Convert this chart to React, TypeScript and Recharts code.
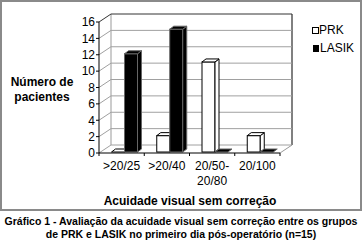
import React from 'react';
import { BarChart, Bar, XAxis, YAxis, CartesianGrid } from 'recharts';

const categories = ['>20/25', '>20/40', '20/50-\n20/80', '20/100'];
const prkValues = [0, 2, 11, 2];
const lasikValues = [12, 15, 0, 0];
const yTicks = [0, 2, 4, 6, 8, 10, 12, 14, 16];
const seriesNames = ['PRK', 'LASIK'];
const yAxisTitle = ['Número de', 'pacientes'];
const xAxisTitle = 'Acuidade visual sem correção';
const captionLines = [
  'Gráfico 1 - Avaliação da acuidade visual sem correção entre os grupos',
  'de PRK e LASIK no primeiro dia pós-operatório (n=15)',
];

const data = categories.map((c, i) => ({ category: c, PRK: prkValues[i], LASIK: lasikValues[i] }));

const FONT = '"Liberation Sans", Arial, Helvetica, sans-serif';
const DX = 12;
const DY = -8;
const BX = 4;
const BY = -3;
const SHIFT_X = 3;
const SHIFT_Y = -1;

const Box3D = (props: any) => {
  const { x, y, width, height, fill, stroke } = props;
  if (x == null || y == null) return null;
  const w = width;
  const h = Math.max(0, height || 0);
  const x0 = x + SHIFT_X;
  const y0 = y + SHIFT_Y;
  const top = `M${x0},${y0}L${x0 + BX},${y0 + BY}L${x0 + w + BX},${y0 + BY}L${x0 + w},${y0}Z`;
  const side = `M${x0 + w},${y0}L${x0 + w + BX},${y0 + BY}L${x0 + w + BX},${y0 + h + BY}L${x0 + w},${y0 + h}Z`;
  return (
    <g>
      {h > 0 && <rect x={x0} y={y0} width={w} height={h} fill={fill} stroke={stroke} strokeWidth={1} />}
      {h > 0 && <path d={side} fill={fill} stroke={stroke} strokeWidth={1} strokeLinejoin="round" />}
      <path d={top} fill={fill} stroke={stroke} strokeWidth={1} strokeLinejoin="round" />
    </g>
  );
};

const gridLine = (p: any) => {
  const { x1, x2, y1 } = p;
  const top = p.y != null ? p.y : 22;
  const bottom = top + (p.height != null ? p.height : 131);
  const isTop = Math.abs(y1 - top) < 0.5;
  const isBottom = Math.abs(y1 - bottom) < 0.5;
  return (
    <g key={p.key ?? `g-${y1}`}>
      {isBottom && (
        <g>
          <line x1={x1 + DX} y1={top + DY} x2={x1 + DX} y2={bottom + DY} stroke="#999" strokeWidth={1} />
          <line x1={x2 + DX} y1={top + DY} x2={x2 + DX} y2={bottom + DY} stroke="#808080" strokeWidth={2} />
          <line x1={x2} y1={bottom} x2={x2 + DX} y2={bottom + DY} stroke="#999" strokeWidth={1} />
        </g>
      )}
      <polyline
        points={`${x1},${y1} ${x1 + DX},${y1 + DY} ${x2 + DX},${y1 + DY}`}
        fill="none"
        stroke={isTop ? '#333' : '#a0a0a0'}
        strokeWidth={1}
      />
    </g>
  );
};

const XTick = (p: any) => {
  const { x, y, payload, index, visibleTicksCount } = p;
  const lines = String(payload.value).split('\n');
  const half = payload.offset ? payload.offset : 22.6;
  const last = visibleTicksCount ? index === visibleTicksCount - 1 : index === categories.length - 1;
  return (
    <g>
      <line x1={x - half} y1={y} x2={x - half} y2={y + 3} stroke="#000" />
      {last && <line x1={x + half} y1={y} x2={x + half} y2={y + 3} stroke="#000" />}
      <text x={x} y={y + 17} textAnchor="middle" fontSize={12} fontFamily={FONT} fill="#000">
        {lines.map((l, i) => (
          <tspan key={i} x={x} dy={i === 0 ? 0 : 15}>
            {l}
          </tspan>
        ))}
      </text>
    </g>
  );
};

export default function App() {
  return (
    <div style={{ position: 'absolute', left: 0, top: 0, width: 362, height: 241, background: '#fff', fontFamily: FONT }}>
      <div
        style={{
          position: 'absolute',
          left: 0,
          top: 0,
          width: 362,
          height: 211,
          boxSizing: 'border-box',
          border: '2px solid #8a8a8a',
        }}
      />
      <div style={{ position: 'absolute', left: 0, top: 0 }}>
        <BarChart
          width={362}
          height={212}
          data={data}
          margin={{ top: 22, right: 82, bottom: 0, left: 0 }}
          barCategoryGap="21%"
          barGap={0}
        >
          <CartesianGrid vertical={false} horizontal={gridLine} />
          <XAxis
            dataKey="category"
            height={59}
            axisLine={{ stroke: '#000' }}
            tickLine={false}
            tickSize={0}
            tickMargin={0}
            interval={0}
            tick={<XTick />}
          />
          <YAxis
            width={99}
            domain={[0, 16]}
            ticks={yTicks}
            interval={0}
            axisLine={{ stroke: '#000' }}
            tickLine={{ stroke: '#000' }}
            tickSize={3}
            tickMargin={1}
            tick={{ fill: '#000', fontSize: 12, fontFamily: FONT }}
          />
          <Bar dataKey="PRK" name={seriesNames[0]} fill="#fff" stroke="#000" shape={Box3D} isAnimationActive={false} />
          <Bar dataKey="LASIK" name={seriesNames[1]} fill="#000" stroke="#666" shape={Box3D} isAnimationActive={false} />
        </BarChart>
      </div>
      <svg width={362} height={212} style={{ position: 'absolute', left: 0, top: 0, pointerEvents: 'none' }}>
        <text x={42} y={86} textAnchor="middle" fontSize={12} fontWeight="bold" fontFamily={FONT} fill="#000">
          {yAxisTitle[0]}
        </text>
        <text x={42} y={101} textAnchor="middle" fontSize={12} fontWeight="bold" fontFamily={FONT} fill="#000">
          {yAxisTitle[1]}
        </text>
        <text x={190} y={205} textAnchor="middle" fontSize={12} fontWeight="bold" fontFamily={FONT} fill="#000">
          {xAxisTitle}
        </text>
        <rect x={312.5} y={27.5} width={6} height={6} fill="#fff" stroke="#000" />
        <text x={319} y={34} fontSize={12} fontFamily={FONT} fill="#000">{seriesNames[0]}</text>
        <rect x={313.5} y={45.5} width={5} height={6} fill="#000" stroke="#000" />
        <text x={320} y={52} fontSize={12} fontFamily={FONT} fill="#000">{seriesNames[1]}</text>
      </svg>
      <div
        style={{
          position: 'absolute',
          left: 0,
          top: 215,
          width: 362,
          textAlign: 'center',
          fontWeight: 'bold',
          fontSize: 10.5,
          lineHeight: '13px',
          whiteSpace: 'nowrap',
          color: '#000',
        }}
      >
        {captionLines[0]}
        <br />
        {captionLines[1]}
      </div>
    </div>
  );
}
